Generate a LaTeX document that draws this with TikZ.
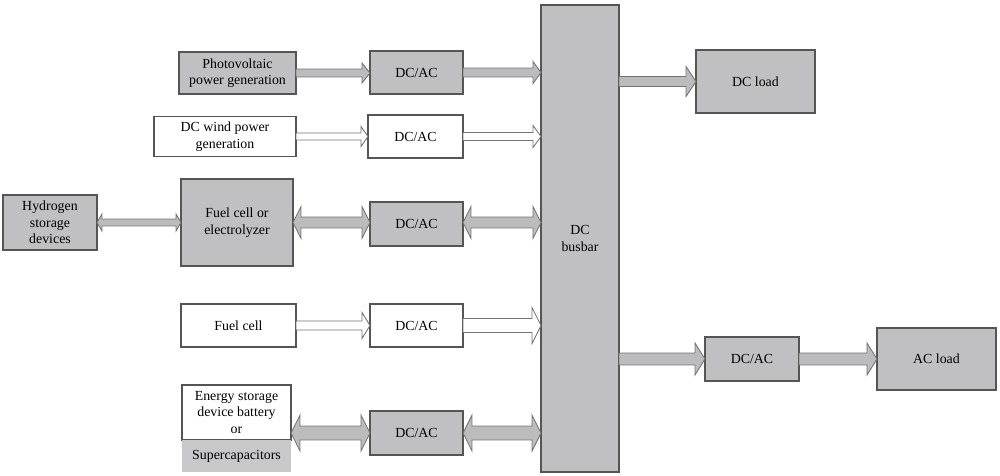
\documentclass[tikz,border=0pt]{standalone}
\usepackage{fontspec}
\setmainfont{Liberation Serif}
\usetikzlibrary{calc}
\definecolor{boxgray}{RGB}{192,192,194}
\definecolor{boxline}{RGB}{85,85,85}
\definecolor{arrgray}{RGB}{188,188,190}
\definecolor{arrline}{RGB}{115,115,115}
\definecolor{scgray}{RGB}{200,200,202}
% single arrow: style, from, to, yref, shaft half, head half, head length (px)
\newcommand\sarr[7]{\path[#1] let \p1=#2, \p2=#3, \p3=#4 in
 (\x1,{\y3+#5*0.5669pt}) -- ({\x2-#7*0.5669pt},{\y3+#5*0.5669pt}) -- ({\x2-#7*0.5669pt},{\y3+#6*0.5669pt}) -- (\x2,\y3)
 -- ({\x2-#7*0.5669pt},{\y3-#6*0.5669pt}) -- ({\x2-#7*0.5669pt},{\y3-#5*0.5669pt}) -- (\x1,{\y3-#5*0.5669pt}) -- cycle;}
% double arrow
\newcommand\darr[7]{\path[#1] let \p1=#2, \p2=#3, \p3=#4 in
 (\x1,\y3) -- ({\x1+#7*0.5669pt},{\y3+#6*0.5669pt}) -- ({\x1+#7*0.5669pt},{\y3+#5*0.5669pt})
 -- ({\x2-#7*0.5669pt},{\y3+#5*0.5669pt}) -- ({\x2-#7*0.5669pt},{\y3+#6*0.5669pt}) -- (\x2,\y3)
 -- ({\x2-#7*0.5669pt},{\y3-#6*0.5669pt}) -- ({\x2-#7*0.5669pt},{\y3-#5*0.5669pt})
 -- ({\x1+#7*0.5669pt},{\y3-#5*0.5669pt}) -- ({\x1+#7*0.5669pt},{\y3-#6*0.5669pt}) -- cycle;}
\begin{document}
\begin{tikzpicture}[x=0.02cm,y=-0.02cm,
  sz/.style 2 args={minimum width=#1*0.02cm, minimum height=#2*0.02cm},
  base/.style={rectangle, inner sep=0pt, outer sep=0pt, align=center,
    font=\fontsize{7.9}{9.4}\selectfont, line width=0.6pt},
  gbox/.style={base, draw=boxline, fill=boxgray},
  wbox/.style={base, draw=boxline, fill=white},
  garr/.style={fill=arrgray, draw=arrline, line width=0.5pt, line join=miter},
  warr/.style={fill=white, draw=arrline, line width=0.5pt, line join=miter}]
\useasboundingbox (0,0) rectangle (1000,476);
% nodes
\node[gbox, sz={117}{42}] (pv) at (237.5,73) {Photovoltaic\\power generation};
\node[gbox, sz={93}{43}] (dca1) at (416.5,72.5) {DC/AC};
\node[wbox, sz={142}{40}] (wind) at (225,136.5) {DC wind power\\generation};
\node[wbox, sz={95}{43}] (dca2) at (415.5,136.5) {DC/AC};
\node[gbox, sz={94}{55}] (h2) at (50,222.5) {Hydrogen\\storage\\devices};
\node[gbox, sz={112}{87}] (fc) at (237,222.5) {Fuel cell or\\electrolyzer};
\node[gbox, sz={93}{44}] (dca3) at (416.5,224) {DC/AC};
\node[wbox, sz={115}{43}] (fcell) at (238.5,325.5) {Fuel cell};
\node[wbox, sz={93}{43}] (dca4) at (416.5,325.5) {DC/AC};
\node[wbox, sz={109}{55}] (es) at (236.5,412.5) {Energy storage\\device battery\\or};
\node[base, fill=scgray, sz={109}{32}] (sc) at (236.5,456) {Supercapacitors};
\node[gbox, sz={93}{44}] (dca5) at (416.5,433) {DC/AC};
\node[gbox, sz={78}{467}] (bus) at (580,238.5) {DC\\busbar};
\node[gbox, sz={119}{63}] (dcl) at (755.5,81.5) {DC load};
\node[gbox, sz={94}{44}] (dca6) at (752,359) {DC/AC};
\node[gbox, sz={119}{62}] (acl) at (936.5,359) {AC load};
% connectors
\sarr{garr}{(pv.east)}{(dca1.west)}{(pv.east)}{4}{10}{8}
\sarr{garr}{(dca1.east)}{(bus.west)}{(dca1.east)}{4.5}{11}{8}
\sarr{warr}{(wind.east)}{(dca2.west)}{(wind.east)}{3.5}{10}{7}
\sarr{warr}{(dca2.east)}{(bus.west)}{(dca2.east)}{4}{11}{8}
\darr{garr}{(h2.east)}{(fc.west)}{(h2.east)}{3.5}{8.5}{5}
\darr{garr}{(fc.east)}{(dca3.west)}{(fc.east)}{5.5}{16}{8}
\darr{garr}{(dca3.east)}{(bus.west)}{(fc.east)}{5.5}{16}{8}
\sarr{warr}{(fcell.east)}{(dca4.west)}{(fcell.east)}{4.5}{13}{8}
\sarr{warr}{(dca4.east)}{(bus.west)}{(dca4.east)}{7}{18}{9}
\darr{garr}{(es.east)}{(dca5.west)}{(dca5.west)}{7}{18}{9}
\darr{garr}{(dca5.east)}{(bus.west)}{(dca5.east)}{7}{18}{9}
\sarr{garr}{(bus.east)}{(dcl.west)}{(dcl.west)}{5}{15}{10}
\sarr{garr}{(bus.east)}{(dca6.west)}{(dca6.west)}{6}{16}{10}
\sarr{garr}{(dca6.east)}{(acl.west)}{(dca6.east)}{6}{16}{10}
\end{tikzpicture}
\end{document}
